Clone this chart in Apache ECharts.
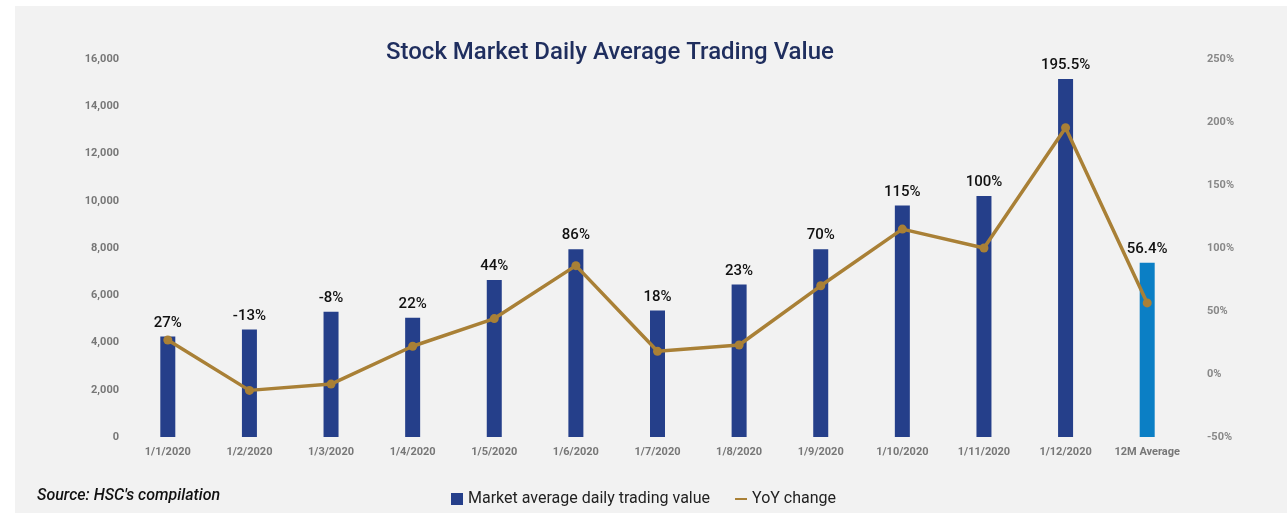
<!DOCTYPE html>
<html>
<head>
<meta charset="utf-8">
<script src="https://cdn.jsdelivr.net/npm/echarts@6/dist/echarts.min.js"></script>
<style>
  html, body { margin: 0; padding: 0; background: #fff; }
  #chart { width: 1287px; height: 513px; }
</style>
</head>
<body>
<div id="chart"></div>
<script>
// data
const categories = ['1/1/2020', '1/2/2020', '1/3/2020', '1/4/2020', '1/5/2020', '1/6/2020',
  '1/7/2020', '1/8/2020', '1/9/2020', '1/10/2020', '1/11/2020', '1/12/2020', '12M Average'];
const tradingValue = [4250, 4550, 5300, 5050, 6650, 7950, 5350, 6450, 7950, 9800, 10200, 15150, 7380];
const yoyChange = [27, -13, -8, 22, 44, 86, 18, 23, 70, 115, 100, 195.5, 56.4];
const leftTicks = [0, 16000, 2000];
const rightTicks = [-50, 250, 50];

const NAVY = '#253f8a';
const AVG_BLUE = '#0b7fc5';
const GOLD = '#a98036';
const FONT = 'Roboto';

const chart = echarts.init(document.getElementById('chart'));

const option = {
  backgroundColor: '#ffffff',
  textStyle: { fontFamily: FONT },
  title: {
    text: 'Stock Market Daily Average Trading Value',
    left: 381, top: 36,
    textStyle: { fontFamily: FONT, fontSize: 24, fontWeight: 500, color: '#1f2e5e' }
  },
  graphic: [
    { type: 'rect', z: -10, shape: { x: 15, y: 6, width: 1272, height: 507 }, style: { fill: '#f2f2f2' } },
    { type: 'text', left: 37, top: 488,
      style: { text: "Source: HSC's compilation", font: 'italic 500 16px Roboto', fill: '#111' } }
  ],
  legend: {
    left: 446, top: 486,
    itemWidth: 12, itemHeight: 12, itemGap: 24,
    textStyle: { fontFamily: FONT, fontSize: 16, color: '#222' },
    data: [
      { name: 'Market average daily trading value', icon: 'rect' },
      { name: 'YoY change', itemStyle: { opacity: 0 } }
    ]
  },
  grid: { left: 127, right: 99, top: 59, bottom: 76 },
  xAxis: {
    type: 'category', data: categories,
    axisLine: { show: false }, axisTick: { show: false },
    axisLabel: { color: '#777', fontSize: 11, fontWeight: 'bold', margin: 10, interval: 0 }
  },
  yAxis: [
    {
      type: 'value', min: leftTicks[0], max: leftTicks[1], interval: leftTicks[2],
      splitLine: { show: false }, axisLine: { show: false }, axisTick: { show: false },
      axisLabel: { color: '#777', fontSize: 11, fontWeight: 'bold', margin: 8,
        formatter: v => v.toLocaleString('en-US') }
    },
    {
      type: 'value', min: rightTicks[0], max: rightTicks[1], interval: rightTicks[2],
      splitLine: { show: false }, axisLine: { show: false }, axisTick: { show: false },
      axisLabel: { color: '#888', fontSize: 11, fontWeight: 'bold', margin: 19, formatter: '{value}%' }
    }
  ],
  series: [
    {
      name: 'Market average daily trading value', type: 'bar', yAxisIndex: 0,
      barWidth: 15,
      itemStyle: { color: NAVY },
      data: tradingValue.map((v, i) => i === tradingValue.length - 1
        ? { value: v, itemStyle: { color: AVG_BLUE } } : v),
      label: {
        show: true, position: 'top', distance: 6,
        fontSize: 15, fontWeight: 500, color: '#111',
        formatter: p => yoyChange[p.dataIndex] + '%'
      }
    },
    {
      name: 'YoY change', type: 'line', yAxisIndex: 1, z: 5,
      data: yoyChange,
      symbol: 'circle', symbolSize: 9,
      itemStyle: { color: GOLD },
      lineStyle: { color: GOLD, width: 3.5 }
    }
  ]
};

chart.setOption(option);
</script>
</body>
</html>
